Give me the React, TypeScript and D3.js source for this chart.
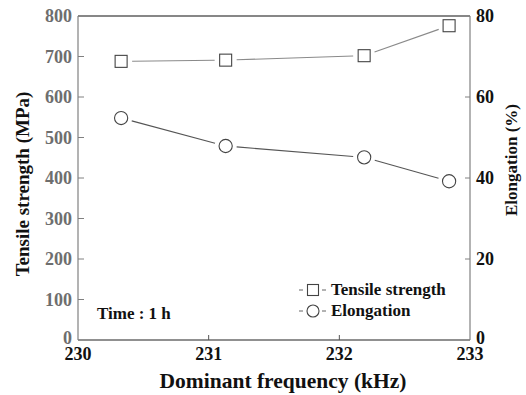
import React, { useRef, useEffect } from 'react';
import * as d3 from 'd3';

const frequency = [230.33, 231.13, 232.19, 232.84];
const tensileStrength = [688, 691, 702, 776];
const elongation = [54.8, 47.9, 45.1, 39.2];
const xTicks = [230, 231, 232, 233];
const leftTicks = [0, 100, 200, 300, 400, 500, 600, 700, 800];
const rightTicks = [0, 20, 40, 60, 80];

const font = "'Liberation Serif', 'Times New Roman', Times, serif";

const App: React.FC = () => {
    const svgRef = useRef<SVGSVGElement | null>(null);

    useEffect(() => {
        const svg = d3.select(svgRef.current);
        svg.selectAll('*').remove();
        const width = 526;
        const height = 395;
        const margin = { top: 16, right: 56, bottom: 55, left: 78 };

        svg.attr('width', width).attr('height', height)
            .attr('font-family', font).attr('font-weight', 'bold')
            .style('background', '#fff');

        const x = d3.scaleLinear().domain([230, 233]).range([margin.left, width - margin.right]);
        const yL = d3.scaleLinear().domain([0, 800]).range([height - margin.bottom, margin.top]);
        const yR = d3.scaleLinear().domain([0, 80]).range([height - margin.bottom, margin.top]);

        const x0 = x(230), x1 = x(233), yb = yL(0), yt = yL(800);

        // frame
        svg.append('line').attr('x1', x0).attr('x2', x1).attr('y1', yt).attr('y2', yt)
            .attr('stroke', '#111').attr('stroke-width', 1.2);
        svg.append('line').attr('x1', x0).attr('x2', x1).attr('y1', yb).attr('y2', yb)
            .attr('stroke', '#222').attr('stroke-width', 1.2);
        svg.append('line').attr('x1', x0).attr('x2', x0).attr('y1', yt).attr('y2', yb)
            .attr('stroke', '#808080').attr('stroke-width', 1.2);
        svg.append('line').attr('x1', x1).attr('x2', x1).attr('y1', yt).attr('y2', yb)
            .attr('stroke', '#808080').attr('stroke-width', 1.2);

        // left ticks
        svg.append('g').selectAll('line').data(leftTicks.slice(1, -1)).enter().append('line')
            .attr('x1', x0).attr('x2', x0 + 6).attr('y1', d => yL(d)).attr('y2', d => yL(d))
            .attr('stroke', '#808080');
        svg.append('g').selectAll('text').data(leftTicks).enter().append('text')
            .attr('x', x0 - 6).attr('y', d => yL(d) + (d === 0 ? 4 : 6))
            .attr('text-anchor', 'end')
            .attr('font-size', 18)
            .attr('fill', '#6e6e6e')
            .text(d => d);

        // right ticks
        svg.append('g').selectAll('line').data(rightTicks.slice(1, -1)).enter().append('line')
            .attr('x1', x1 - 5).attr('x2', x1).attr('y1', d => yR(d)).attr('y2', d => yR(d))
            .attr('stroke', '#808080');
        svg.append('g').selectAll('text').data(rightTicks).enter().append('text')
            .attr('x', x1 + 6).attr('y', d => yR(d) + (d === 0 ? 4 : 6))
            .attr('font-size', 18)
            .attr('fill', '#111')
            .text(d => d);

        // bottom ticks
        svg.append('g').selectAll('line').data(xTicks.slice(1, -1)).enter().append('line')
            .attr('x1', d => x(d)).attr('x2', d => x(d)).attr('y1', yb).attr('y2', yb - 5)
            .attr('stroke', '#555');
        svg.append('g').selectAll('text').data(xTicks).enter().append('text')
            .attr('x', d => x(d)).attr('y', yb + 20)
            .attr('text-anchor', 'middle')
            .attr('font-size', 18)
            .attr('fill', '#111')
            .text(d => d);

        // axis titles
        svg.append('text').attr('x', 283).attr('y', 388).attr('text-anchor', 'middle')
            .attr('font-size', 21.5)
            .attr('fill', '#111').text('Dominant frequency (kHz)');
        svg.append('text').attr('transform', 'translate(29,184) rotate(-90)')
            .attr('text-anchor', 'middle')
            .attr('font-size', 19)
            .attr('fill', '#111').text('Tensile strength (MPa)');
        svg.append('text').attr('transform', 'translate(517,160) rotate(-90)')
            .attr('text-anchor', 'middle')
            .attr('font-size', 17)
            .attr('fill', '#111').text('Elongation (%)');

        // series lines with small gaps near markers
        const drawSeries = (pts: [number, number][], color: string, gap: number) => {
            const g = svg.append('g');
            for (let i = 0; i < pts.length - 1; i++) {
                const [ax, ay] = pts[i];
                const [bx, by] = pts[i + 1];
                const len = Math.hypot(bx - ax, by - ay);
                const ux = (bx - ax) / len, uy = (by - ay) / len;
                g.append('line')
                    .attr('x1', ax + ux * gap).attr('y1', ay + uy * gap)
                    .attr('x2', bx - ux * gap).attr('y2', by - uy * gap)
                    .attr('stroke', color).attr('stroke-width', 1.1);
            }
        };

        const sqPts = frequency.map((f, i) => [x(f), yL(tensileStrength[i])] as [number, number]);
        const ciPts = frequency.map((f, i) => [x(f), yR(elongation[i])] as [number, number]);

        drawSeries(sqPts, '#8a8a8a', 11);
        drawSeries(ciPts, '#555', 11);

        svg.append('g').selectAll('rect').data(sqPts).enter().append('rect')
            .attr('x', d => d[0] - 6).attr('y', d => d[1] - 6)
            .attr('width', 12).attr('height', 12)
            .attr('fill', '#fff').attr('stroke', '#444').attr('stroke-width', 1.1);
        svg.append('g').selectAll('circle').data(ciPts).enter().append('circle')
            .attr('cx', d => d[0]).attr('cy', d => d[1]).attr('r', 6.6)
            .attr('fill', '#fff').attr('stroke', '#444').attr('stroke-width', 1.1);

        // annotation
        svg.append('text').attr('x', 97).attr('y', 319)
            .attr('font-size', 17)
            .attr('fill', '#111').text('Time : 1 h');

        // legend
        const legend = svg.append('g');
        const rows = [
            { label: 'Tensile strength', shape: 'square', y: 290 },
            { label: 'Elongation', shape: 'circle', y: 311 }
        ];
        rows.forEach(r => {
            const cx = 313;
            legend.append('line').attr('x1', 299).attr('x2', 303).attr('y1', r.y).attr('y2', r.y)
                .attr('stroke', '#666');
            legend.append('line').attr('x1', 322).attr('x2', 326).attr('y1', r.y).attr('y2', r.y)
                .attr('stroke', '#666');
            if (r.shape === 'square') {
                legend.append('rect').attr('x', cx - 5.5).attr('y', r.y - 5.5).attr('width', 11).attr('height', 11)
                    .attr('fill', '#fff').attr('stroke', '#444').attr('stroke-width', 1.1);
            } else {
                legend.append('circle').attr('cx', cx).attr('cy', r.y).attr('r', 6)
                    .attr('fill', '#fff').attr('stroke', '#444').attr('stroke-width', 1.1);
            }
            legend.append('text').attr('x', 331).attr('y', r.y + 5)
                .attr('font-size', 17)
                .attr('fill', '#111').text(r.label);
        });
    }, []);

    return <svg ref={svgRef} style={{ position: 'absolute', left: 0, top: 0 }} />;
};

export default App;
